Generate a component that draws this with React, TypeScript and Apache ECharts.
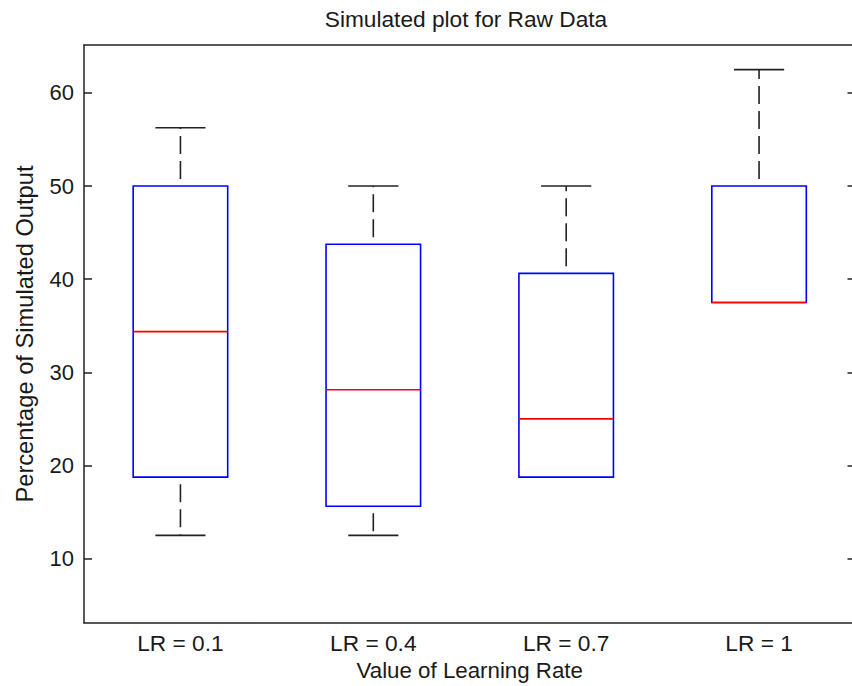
import React, { useEffect, useRef } from "react";
import * as echarts from "echarts";

const categories = ["LR = 0.1", "LR = 0.4", "LR = 0.7", "LR = 1"];
const lowerWhisker = [12.5, 12.5, 18.75, 37.5];
const q1Values = [18.75, 15.625, 18.75, 37.5];
const medianValues = [34.375, 28.125, 25, 37.5];
const q3Values = [50, 43.75, 40.625, 50];
const upperWhisker = [56.25, 50, 50, 62.5];
const yTicks = [10, 20, 30, 40, 50, 60];

const FONT = "'Liberation Sans', Arial, Helvetica, sans-serif";
const TEXT = "#1a1a1a";
const AXIS = "#222";

export default function App() {
  const ref = useRef<HTMLDivElement>(null);

  useEffect(() => {
    if (!ref.current) return;
    const chart = echarts.init(ref.current, null, { renderer: "svg" });

    const data = categories.map((_, i) => [
      i,
      lowerWhisker[i],
      q1Values[i],
      medianValues[i],
      q3Values[i],
      upperWhisker[i],
    ]);

    const renderItem = (params: any, api: any) => {
      const idx = api.value(0);
      const lo = api.coord([idx, api.value(1)]);
      const q1 = api.coord([idx, api.value(2)]);
      const md = api.coord([idx, api.value(3)]);
      const q3 = api.coord([idx, api.value(4)]);
      const hi = api.coord([idx, api.value(5)]);
      const band = api.size([1, 0])[0];
      const bw = band * 0.49;
      const cw = band * 0.26;
      const cx = q1[0];
      const children: any[] = [];
      const whiskerStyle = {
        stroke: AXIS,
        lineWidth: 1.6,
        lineDash: [18, 7],
        lineDashOffset: 18,
        fill: "none",
      };
      const capStyle = { stroke: AXIS, lineWidth: 1.6, fill: "none" };
      if (Math.abs(hi[1] - q3[1]) > 0.5) {
        children.push({
          type: "line",
          shape: { x1: cx, y1: q3[1], x2: cx, y2: hi[1] },
          style: whiskerStyle,
        });
        children.push({
          type: "line",
          shape: { x1: cx - cw / 2, y1: hi[1], x2: cx + cw / 2, y2: hi[1] },
          style: capStyle,
        });
      }
      if (Math.abs(lo[1] - q1[1]) > 0.5) {
        children.push({
          type: "line",
          shape: { x1: cx, y1: q1[1], x2: cx, y2: lo[1] },
          style: whiskerStyle,
        });
        children.push({
          type: "line",
          shape: { x1: cx - cw / 2, y1: lo[1], x2: cx + cw / 2, y2: lo[1] },
          style: capStyle,
        });
      }
      children.push({
        type: "rect",
        shape: { x: cx - bw / 2, y: q3[1], width: bw, height: q1[1] - q3[1] },
        style: { fill: "none", stroke: "#0000ff", lineWidth: 1.6 },
      });
      children.push({
        type: "line",
        shape: { x1: cx - bw / 2, y1: md[1], x2: cx + bw / 2, y2: md[1] },
        style: { stroke: "#ff0000", lineWidth: 1.6 },
      });
      return { type: "group", children };
    };

    chart.setOption({
      animation: false,
      backgroundColor: "#ffffff",
      textStyle: { fontFamily: FONT },
      graphic: [
        {
          type: "text",
          x: 466,
          y: 19,
          style: {
            text: "Simulated plot for Raw Data",
            font: `22.7px ${FONT}`,
            fill: TEXT,
            textAlign: "center",
            textVerticalAlign: "middle",
          },
        },
      ],
      grid: { left: 84, right: 4.5, top: 45, bottom: 61 },
      xAxis: [
        {
          type: "category",
          data: categories,
          position: "bottom",
          boundaryGap: true,
          axisLine: { show: true, lineStyle: { color: AXIS, width: 1.5 } },
          axisTick: { show: false },
          axisLabel: { color: TEXT, fontSize: 22.7, fontFamily: FONT, margin: 8 },
          name: "Value of Learning Rate",
          nameLocation: "middle",
          nameGap: 31,
          nameTextStyle: { color: TEXT, fontSize: 22.3, fontFamily: FONT },
          splitLine: { show: false },
        },
        {
          type: "category",
          data: categories,
          position: "top",
          boundaryGap: true,
          axisLine: { show: true, lineStyle: { color: AXIS, width: 1.5 } },
          axisTick: { show: false },
          axisLabel: { show: false },
          splitLine: { show: false },
        },
      ],
      yAxis: [
        {
          type: "value",
          min: 3.08,
          max: 65.14,
          position: "left",
          axisLine: { show: true, lineStyle: { color: AXIS, width: 1.5 } },
          axisTick: {
            show: true,
            inside: true,
            length: 8,
            customValues: yTicks,
            lineStyle: { color: AXIS, width: 1.5 },
          },
          axisLabel: {
            color: TEXT,
            fontSize: 22,
            fontFamily: FONT,
            margin: 10,
            customValues: yTicks,
          },
          splitLine: { show: false },
          name: "Percentage of Simulated Output",
          nameLocation: "middle",
          nameGap: 47,
          nameTextStyle: { color: TEXT, fontSize: 23.7, fontFamily: FONT },
        },
        {
          type: "value",
          min: 3.08,
          max: 65.14,
          position: "right",
          axisLine: { show: true, lineStyle: { color: AXIS, width: 1.5 } },
          axisTick: {
            show: true,
            inside: true,
            length: 8,
            customValues: yTicks,
            lineStyle: { color: AXIS, width: 1.5 },
          },
          axisLabel: { show: false },
          splitLine: { show: false },
        },
      ],
      series: [
        {
          type: "custom",
          xAxisIndex: 0,
          yAxisIndex: 0,
          data,
          encode: { x: 0, y: [1, 2, 3, 4, 5] },
          renderItem,
          silent: true,
        },
      ],
    });

    return () => chart.dispose();
  }, []);

  return (
    <div
      style={{
        position: "fixed",
        left: 0,
        top: 0,
        width: 852,
        height: 686,
        overflow: "hidden",
        background: "#fff",
      }}
    >
      <div ref={ref} style={{ width: 860, height: 686 }} />
    </div>
  );
}
